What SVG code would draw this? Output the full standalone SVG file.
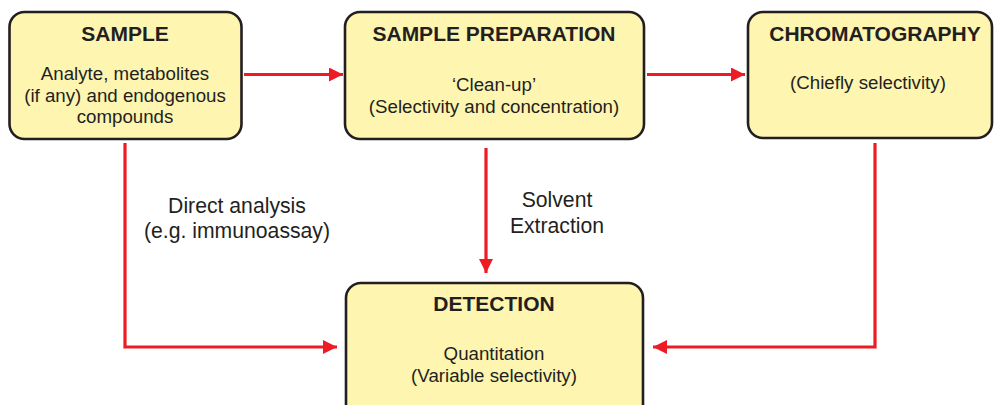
<svg xmlns="http://www.w3.org/2000/svg" width="994" height="405" viewBox="0 0 994 405">
<defs>
<marker id="ah" viewBox="0 0 14 14" refX="14" refY="7" markerWidth="14" markerHeight="14" markerUnits="userSpaceOnUse" orient="auto">
<path d="M0,0 L14,7 L0,14 Z" fill="#ed1c24"/>
</marker>
</defs>
<style>
.box{fill:#fdf5b0;stroke:#231f20;stroke-width:2.6}
.t{font-family:"Liberation Sans",Arial,sans-serif;font-weight:bold;font-size:21px;fill:#231f20;text-anchor:middle}
.b{font-family:"Liberation Sans",Arial,sans-serif;font-size:18.7px;fill:#231f20;text-anchor:middle}
.l{font-family:"Liberation Sans",Arial,sans-serif;font-size:21.2px;fill:#231f20;text-anchor:middle}
.c{fill:none;stroke:#ed1c24;stroke-width:3.2}
</style>
<rect width="994" height="405" fill="#ffffff"/>
<g id="connectors">
<path class="c" d="M244,74.5 H343" marker-end="url(#ah)"/>
<path class="c" d="M647,74.5 H745" marker-end="url(#ah)"/>
<path class="c" d="M125,143 V347 H337" marker-end="url(#ah)"/>
<path class="c" d="M875,143 V347 H653" marker-end="url(#ah)"/>
<path class="c" d="M486,148 V273" marker-end="url(#ah)"/>
<text class="l" x="237" y="213">Direct analysis</text>
<text class="l" x="237" y="238">(e.g. immunoassay)</text>
<text class="l" x="557" y="207">Solvent</text>
<text class="l" x="557" y="233">Extraction</text>
</g>
<g id="sample">
<rect class="box" x="9.5" y="12" width="232" height="127" rx="15"/>
<text class="t" x="125" y="41">SAMPLE</text>
<text class="b" x="125" y="80">Analyte, metabolites</text>
<text class="b" x="125" y="102">(if any) and endogenous</text>
<text class="b" x="125" y="123">compounds</text>
</g>
<g id="sample-preparation">
<rect class="box" x="345" y="12" width="299" height="127" rx="15"/>
<text class="t" x="494" y="41">SAMPLE PREPARATION</text>
<text class="b" x="494" y="91">‘Clean-up’</text>
<text class="b" x="494" y="113">(Selectivity and concentration)</text>
</g>
<g id="chromatography">
<rect class="box" x="748" y="12" width="244" height="126" rx="15"/>
<text class="t" x="875" y="41">CHROMATOGRAPHY</text>
<text class="b" x="868" y="89">(Chiefly selectivity)</text>
</g>
<g id="detection">
<rect class="box" x="346" y="283" width="297" height="140" rx="15"/>
<text class="t" x="494" y="311">DETECTION</text>
<text class="b" x="494" y="360">Quantitation</text>
<text class="b" x="494" y="382">(Variable selectivity)</text>
</g>
</svg>
